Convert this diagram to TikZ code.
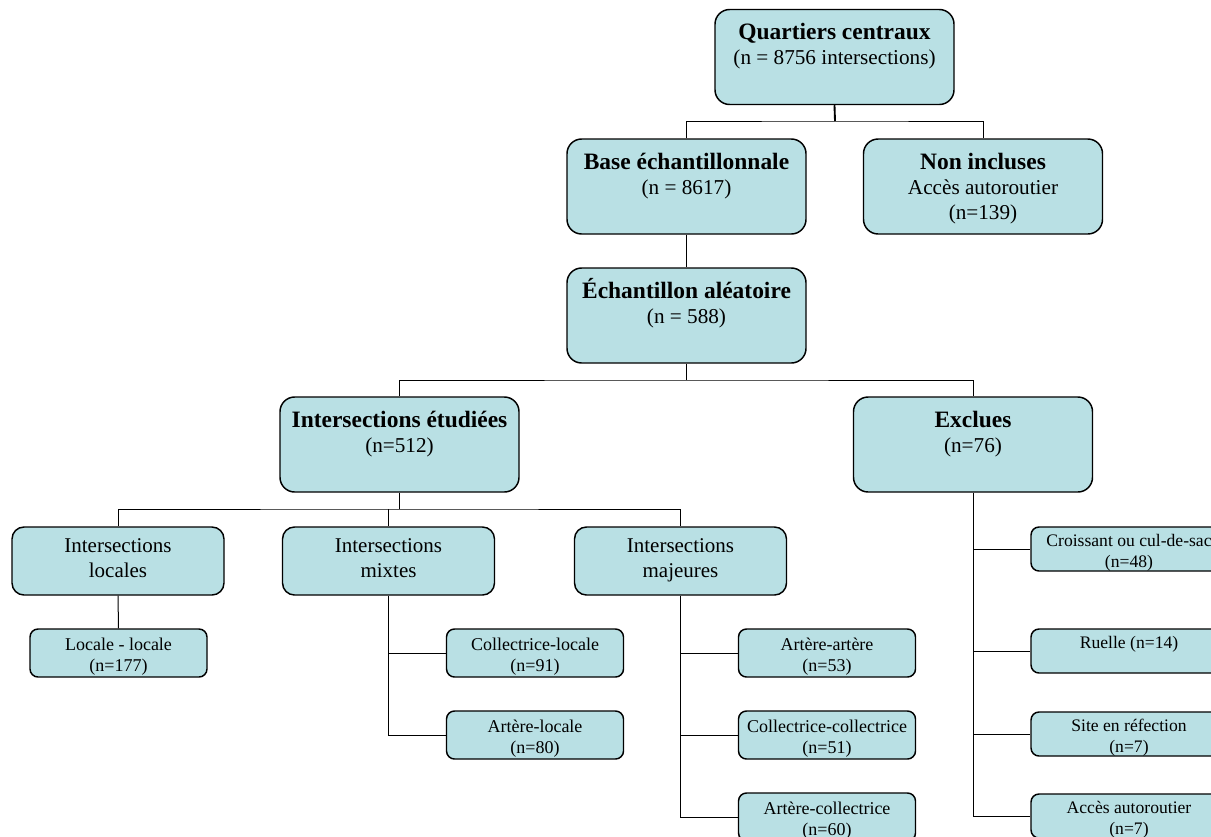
\documentclass[tikz,border=0pt]{standalone}
\usepackage{fontspec}
\setmainfont{Liberation Serif}
\definecolor{boxc}{RGB}{185,224,228}
\newcommand\mystrut[1]{\rule{0pt}{#1}}
\newcommand\hdtxt[1]{{\fontsize{17.6}{18.75}\selectfont\bfseries #1}}
\tikzset{
  box/.style={draw=black, line width=1.1pt, fill=boxc, inner sep=0pt},
  bigbox/.style={box, minimum width=179.25pt, minimum height=71.25pt, rounded corners=11pt},
  midbox/.style={box, minimum width=159pt, minimum height=51pt, rounded corners=9pt},
  smallbox/.style={box, minimum width=132.75pt, minimum height=36pt, rounded corners=6pt},
  exbox/.style={box, minimum width=147pt, minimum height=33pt, rounded corners=6pt},
  bigtxt/.style={anchor=north, inner sep=0pt, align=center, yshift=-6.9pt, font=\fontsize{15.9}{18.75}\selectfont},
  midtxt/.style={anchor=north, inner sep=0pt, align=center, yshift=-4.3pt, font=\fontsize{15.75}{18.75}\selectfont},
  smalltxt/.style={anchor=north, inner sep=0pt, align=center, yshift=-3.4pt, font=\fontsize{13.5}{15.5}\selectfont},
  extxt/.style={anchor=north, inner sep=0pt, align=center, yshift=-2.0pt, font=\fontsize{13.2}{15.5}\selectfont},
  link/.style={draw=black, line width=0.75pt},
}
\begin{document}
\begin{tikzpicture}[x=0.75pt,y=-0.75pt]
\useasboundingbox (0,0) rectangle (1211,836);
% level 1
\node[bigbox, label={[bigtxt]north:{\mystrut{16pt}\hdtxt{Quartiers centraux}\\(n = 8756 intersections)}}] (Q) at (834.5,57) {};
% level 2
\node[bigbox, label={[bigtxt]north:{\mystrut{16pt}\hdtxt{Base échantillonnale}\\(n = 8617)}}] (B) at (686.5,186.5) {};
\node[bigbox, label={[bigtxt]north:{\mystrut{16pt}\hdtxt{Non incluses}\\Accès autoroutier\\(n=139)}}] (N) at (983,186.5) {};
% level 3
\node[bigbox, label={[bigtxt]north:{\mystrut{16pt}\hdtxt{Échantillon aléatoire}\\(n = 588)}}] (E) at (686.5,315.5) {};
% level 4
\node[bigbox, label={[bigtxt]north:{\mystrut{16pt}\hdtxt{Intersections étudiées}\\(n=512)}}] (IE) at (399.5,444.5) {};
\node[bigbox, label={[bigtxt]north:{\mystrut{16pt}\hdtxt{Exclues}\\(n=76)}}] (X) at (973,444.5) {};
% level 5
\node[midbox, label={[midtxt]north:{\mystrut{15pt}Intersections\\locales}}] (IL) at (118,561) {};
\node[midbox, label={[midtxt]north:{\mystrut{15pt}Intersections\\mixtes}}] (IM) at (388.5,561) {};
\node[midbox, label={[midtxt]north:{\mystrut{15pt}Intersections\\majeures}}] (IJ) at (680.5,561) {};
% leaves
\node[smallbox, label={[smalltxt]north:{\mystrut{13pt}Locale - locale\\(n=177)}}] (LL) at (118.5,653) {};
\node[smallbox, label={[smalltxt]north:{\mystrut{13pt}Collectrice-locale\\(n=91)}}] (CL) at (535,653) {};
\node[smallbox, label={[smalltxt]north:{\mystrut{13pt}Artère-locale\\(n=80)}}] (AL) at (535,735) {};
\node[smallbox, label={[smalltxt]north:{\mystrut{13pt}Artère-artère\\(n=53)}}] (AA) at (827,653) {};
\node[smallbox, label={[smalltxt]north:{\mystrut{13pt}Collectrice-collectrice\\(n=51)}}] (CC) at (827,735) {};
\node[smallbox, label={[smalltxt]north:{\mystrut{13pt}Artère-collectrice\\(n=60)}}] (AC) at (827,817) {};
% excluded leaves
\node[exbox, label={[extxt]north:{\mystrut{13pt}Croissant ou cul-de-sac\\(n=48)}}] (CR) at (1129,549) {};
\node[exbox, label={[extxt]north:{\mystrut{13pt}Ruelle (n=14)}}] (RU) at (1129,651) {};
\node[exbox, label={[extxt]north:{\mystrut{13pt}Site en réfection\\(n=7)}}] (SR) at (1129,734) {};
\node[exbox, label={[extxt]north:{\mystrut{13pt}Accès autoroutier\\(n=7)}}] (AR) at (1129,816) {};
% junctions
\coordinate (j1) at (835,121);
\coordinate (j2) at (686.5,380);
\coordinate (j3) at (399.5,509);
% connectors
\draw[link, line width=1.4pt] (Q.south) -- (j1);
\draw[link] (B.north) |- (j1) -| (N.north);
\draw[link] (B.south) -- (E.north);
\draw[link] (E.south) -- (j2);
\draw[link] (IE.north) |- (j2) -| (X.north);
\draw[link] (IE.south) -- (j3);
\draw[link] (IL.north) |- (j3) -| (IJ.north);
\draw[link] (IM.north) -- (IM.north |- j3);
\draw[link] (IL.south) -- (LL.north);
\draw[link] (IM.south) |- (AL.west);
\draw[link] (IM.south |- CL.west) -- (CL.west);
\draw[link] (IJ.south) |- (AC.west);
\draw[link] (IJ.south |- AA.west) -- (AA.west);
\draw[link] (IJ.south |- CC.west) -- (CC.west);
\draw[link] (X.south) |- (AR.west);
\draw[link] (X.south |- CR.west) -- (CR.west);
\draw[link] (X.south |- RU.west) -- (RU.west);
\draw[link] (X.south |- SR.west) -- (SR.west);
\end{tikzpicture}
\end{document}
